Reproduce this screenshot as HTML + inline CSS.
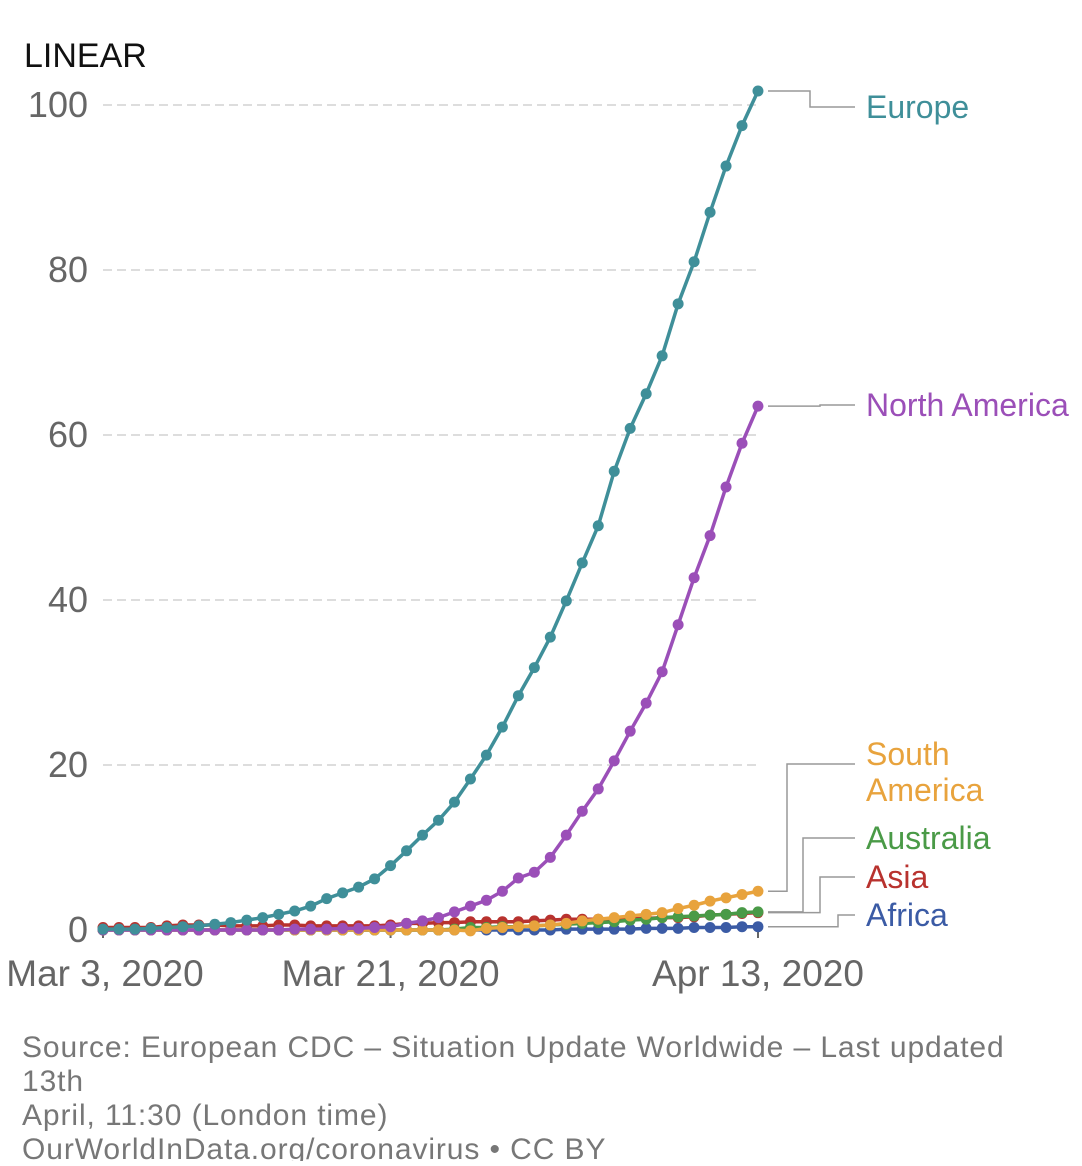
<!DOCTYPE html>
<html><head><meta charset="utf-8"><style>
body{margin:0;background:#fff;font-family:"Liberation Sans",sans-serif}
svg text{font-family:"Liberation Sans",sans-serif}
</style></head><body>
<svg id="chart" width="1082" height="1161" viewBox="0 0 1082 1161">
<text x="24" y="67" font-size="34" fill="#111">LINEAR</text>
<g id="grid"></g><g id="series"></g><g id="labels"></g>
<g font-size="30" letter-spacing="0.9" fill="#777">
<text x="22" y="1057">Source: European CDC – Situation Update Worldwide – Last updated</text>
<text x="22" y="1091">13th</text>
<text x="22" y="1125">April, 11:30 (London time)</text>
<text x="22" y="1159">OurWorldInData.org/coronavirus • CC BY</text>
</g>
</svg>
<script>
const yTicks=[0,20,40,60,80,100];
const xTickDays=[0,18,41];
const xTickLabels=["Mar 3, 2020","Mar 21, 2020","Apr 13, 2020"];
const seriesNames=["Africa","Asia","Australia","South America","North America","Europe"];
const seriesColors=["#3b5ba5","#b8322e","#4a9a47","#e8a33d","#9b4fb8","#3f8f99"];
const europe=[0.1,0.1,0.1,0.2,0.3,0.4,0.5,0.7,0.9,1.2,1.5,1.9,2.3,2.9,3.8,4.5,5.2,6.2,7.8,9.6,11.5,13.3,15.5,18.3,21.2,24.6,28.4,31.8,35.5,39.9,44.5,49,55.6,60.8,65,69.6,75.9,81,87,92.6,97.5,101.7];
const northAmerica=[0,0,0,0,0,0,0,0,0,0,0,0,0.1,0.1,0.1,0.2,0.2,0.3,0.4,0.8,1.1,1.5,2.2,2.9,3.6,4.7,6.3,7,8.8,11.5,14.4,17.1,20.5,24.1,27.5,31.3,37,42.7,47.8,53.7,59,63.5];
const southAmerica=[0,0,0,0,0,0,0,0,0,0,0,0,0,0,0,0,0,0,0,0,0,0,0,-0.1,0.2,0.3,0.4,0.5,0.6,0.8,1.1,1.3,1.5,1.7,1.9,2.1,2.6,3,3.5,3.9,4.3,4.7];
const australia=[0,0,0,0,0,0,0,0,0,0,0,0,0,0,0,0,0,0,0,0,0,0,0.1,0.3,0.3,0.4,0.4,0.5,0.6,0.7,0.8,0.9,1,1.2,1.3,1.5,1.6,1.7,1.8,1.9,2.1,2.2];
const asia=[0.3,0.3,0.3,0.3,0.5,0.6,0.6,0.6,0.5,0.5,0.5,0.6,0.6,0.5,0.5,0.5,0.5,0.5,0.6,0.8,0.8,0.9,0.9,1,1,1,1,1.1,1.2,1.3,1.3,1.3,1.3,1.4,1.4,1.5,1.5,1.6,1.8,1.9,2,2.1];
const africa=[0,0,0,0,0,0,0,0,0,0,0,0,0,0,0,0,0,0,0,0,0,0,0,0,0,0,0,0,0,0.1,0.1,0.1,0.1,0.1,0.2,0.2,0.2,0.3,0.3,0.3,0.4,0.4];
const allSeries=[africa,asia,australia,southAmerica,northAmerica,europe];
const labelY=[915,877,838,764,405,107];
const NS="http://www.w3.org/2000/svg";
const X=d=>103+d*(758-103)/41, Y=v=>930-v*8.25;
function mk(t,a,p){const e=document.createElementNS(NS,t);for(const k in a)e.setAttribute(k,a[k]);p.appendChild(e);return e;}
const grid=document.getElementById('grid');
yTicks.forEach(v=>{
 if(v>0){const l=mk('line',{x1:103,x2:760,y1:Y(v),y2:Y(v),stroke:'#ddd','stroke-width':2,'stroke-dasharray':'9,5'},grid);
 
 }
 const t=mk('text',{x:88,y:Y(v)+12,'text-anchor':'end','font-size':36,fill:'#666'},grid);t.textContent=v;
 
 
});
xTickDays.forEach((d,i)=>{
 mk('line',{x1:X(d),x2:X(d),y1:930,y2:938,stroke:'#666','stroke-width':2},grid);
 const t=mk('text',{x:i==0?105:X(d),y:986,'text-anchor':'middle','font-size':37,fill:'#666'},grid);t.textContent=xTickLabels[i];
 
 
});
const sg=document.getElementById('series'),lg=document.getElementById('labels');
allSeries.forEach((s,si)=>{
 const g=mk('g',{},sg);
 
 
 mk('polyline',{points:s.map((v,i)=>X(i)+','+Y(v)).join(' '),fill:'none',stroke:seriesColors[si],'stroke-width':3.5},g);
 s.forEach((v,i)=>{const c=mk('circle',{cx:X(i),cy:Y(v),r:5.5,fill:seriesColors[si]},g);
 
 });
 const ey=Y(s[s.length-1]), ly=labelY[si], mx=[838,820,803,787,820,810][si];
 mk('polyline',{points:`768,${ey} ${mx},${ey} ${mx},${ly} 855,${ly}`,fill:'none',stroke:'#999','stroke-width':1.5},lg);
 const lines=seriesNames[si]=="South America"?["South","America"]:[seriesNames[si]];
 lines.forEach((ln,k)=>{const t=mk('text',{x:866,y:ly+11+k*36-(lines.length>1?10:0),'font-size':32,fill:seriesColors[si]},lg);t.textContent=ln;
 
 });
});
</script>
</body></html>
